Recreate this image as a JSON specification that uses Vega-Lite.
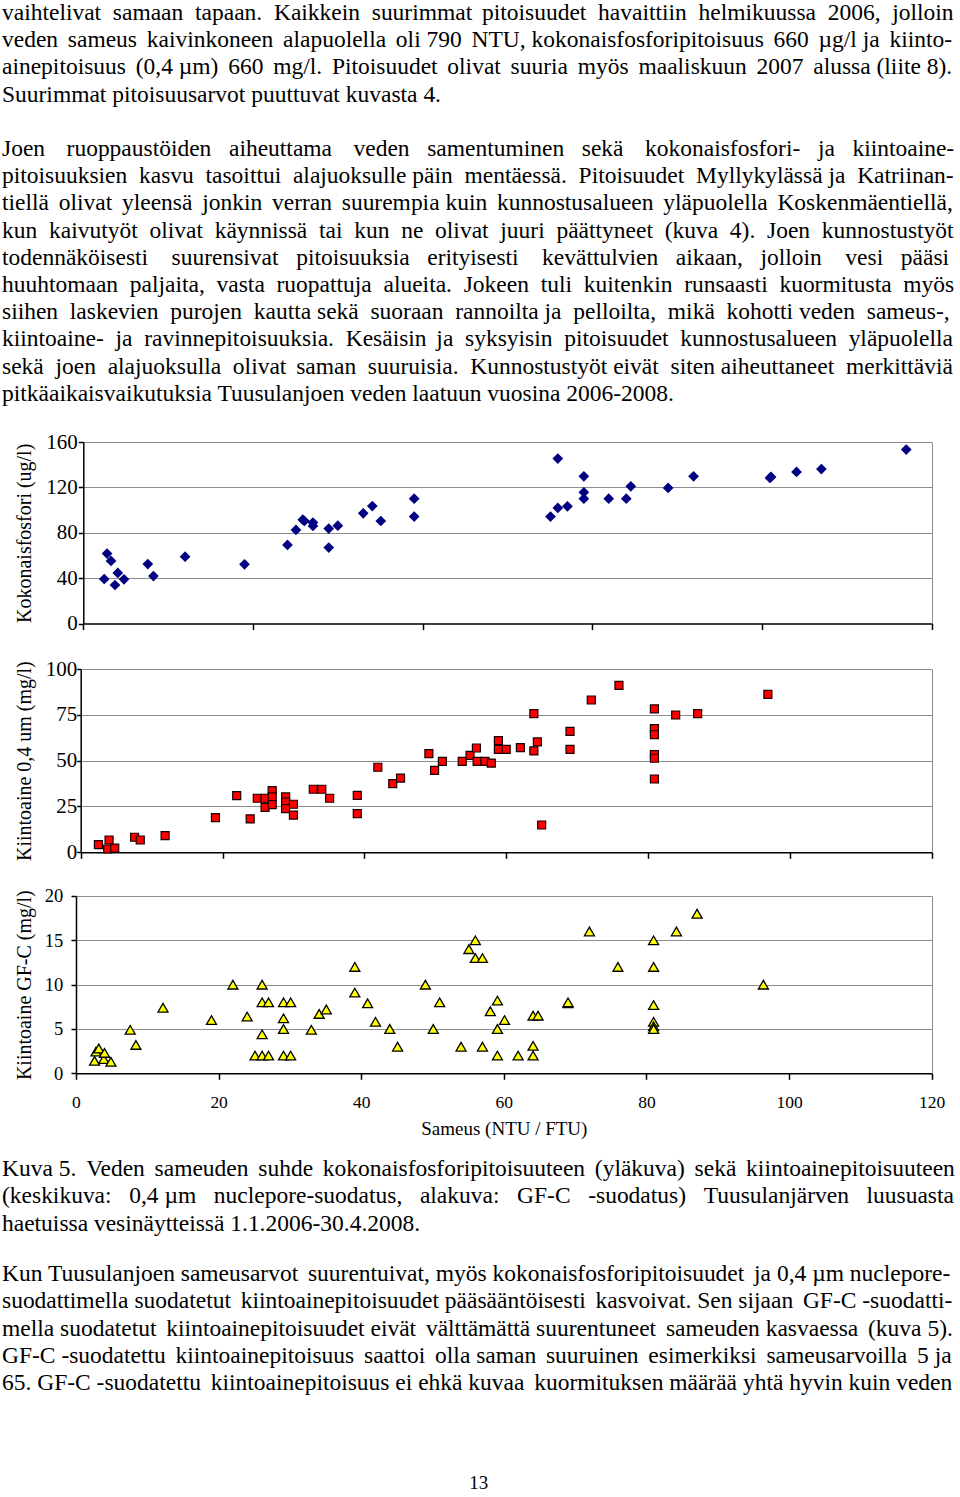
{
  "$schema": "https://vega.github.io/schema/vega-lite/v6.json",
  "background": "white",
  "padding": {"left": 2, "top": 0, "right": 0, "bottom": 0},
  "config": {
    "font": "Liberation Serif",
    "view": {"stroke": null},
    "axis": {
      "domainColor": "black", "domainWidth": 1.5,
      "tickColor": "black", "tickWidth": 1.5,
      "labelColor": "black", "titleColor": "black",
      "labelFont": "Liberation Serif", "titleFont": "Liberation Serif",
      "titleFontWeight": "normal", "titleFontSize": 20,
      "gridColor": "#8c8c8c", "gridWidth": 1,
      "labelFlush": false
    },
    "title": {"font": "Liberation Serif", "fontWeight": "normal", "color": "black",
      "subtitleFont": "Liberation Serif", "subtitleColor": "black", "subtitleFontWeight": "normal"}
  },
  "datasets": {
    "tp": [
      {"sameus": 3.7, "value": 39.3}, {"sameus": 4.2, "value": 61.7}, {"sameus": 4.9, "value": 55.2},
      {"sameus": 5.6, "value": 34.0}, {"sameus": 6.1, "value": 44.6}, {"sameus": 7.2, "value": 39.0},
      {"sameus": 11.4, "value": 52.5}, {"sameus": 12.4, "value": 41.9}, {"sameus": 18.0, "value": 59.0},
      {"sameus": 28.5, "value": 52.2}, {"sameus": 36.1, "value": 69.3}, {"sameus": 37.6, "value": 82.5},
      {"sameus": 38.8, "value": 91.6}, {"sameus": 39.1, "value": 90.4}, {"sameus": 40.6, "value": 89.0},
      {"sameus": 40.6, "value": 86.0}, {"sameus": 43.4, "value": 67.0}, {"sameus": 43.4, "value": 83.7},
      {"sameus": 45.0, "value": 86.3}, {"sameus": 49.5, "value": 97.2}, {"sameus": 51.1, "value": 103.6},
      {"sameus": 52.6, "value": 90.4}, {"sameus": 58.5, "value": 110.1}, {"sameus": 58.5, "value": 94.3},
      {"sameus": 83.9, "value": 145.4}, {"sameus": 82.6, "value": 94.3}, {"sameus": 83.9, "value": 101.9},
      {"sameus": 85.6, "value": 103.3}, {"sameus": 88.5, "value": 129.8}, {"sameus": 88.5, "value": 115.7},
      {"sameus": 88.5, "value": 110.1}, {"sameus": 92.9, "value": 110.1}, {"sameus": 96.0, "value": 110.1},
      {"sameus": 96.8, "value": 121.0}, {"sameus": 103.4, "value": 119.5}, {"sameus": 107.9, "value": 129.8},
      {"sameus": 121.6, "value": 129.2}, {"sameus": 121.4, "value": 128.3}, {"sameus": 126.1, "value": 133.6},
      {"sameus": 130.5, "value": 136.2}, {"sameus": 145.5, "value": 153.3}
    ],
    "ss": [
      {"sameus": 2.5, "value": 4.2}, {"sameus": 3.8, "value": 1.8}, {"sameus": 4.0, "value": 6.7},
      {"sameus": 4.8, "value": 2.3}, {"sameus": 7.6, "value": 8.2}, {"sameus": 8.4, "value": 6.7},
      {"sameus": 11.9, "value": 9.1}, {"sameus": 19.0, "value": 18.9}, {"sameus": 22.0, "value": 30.9},
      {"sameus": 23.9, "value": 18.2}, {"sameus": 24.9, "value": 29.5}, {"sameus": 26.0, "value": 29.5},
      {"sameus": 26.0, "value": 24.5}, {"sameus": 27.0, "value": 33.7}, {"sameus": 27.0, "value": 30.2},
      {"sameus": 27.0, "value": 26.0}, {"sameus": 28.9, "value": 30.2}, {"sameus": 28.9, "value": 27.4},
      {"sameus": 28.9, "value": 23.8}, {"sameus": 30.0, "value": 26.2}, {"sameus": 30.0, "value": 20.3},
      {"sameus": 32.8, "value": 34.4}, {"sameus": 34.0, "value": 34.4}, {"sameus": 35.1, "value": 29.5},
      {"sameus": 39.0, "value": 31.1}, {"sameus": 39.0, "value": 21.1}, {"sameus": 41.9, "value": 46.4},
      {"sameus": 44.0, "value": 37.5}, {"sameus": 45.1, "value": 40.5}, {"sameus": 49.1, "value": 53.8},
      {"sameus": 49.9, "value": 44.7}, {"sameus": 51.0, "value": 49.6}, {"sameus": 53.8, "value": 49.6},
      {"sameus": 54.9, "value": 52.9}, {"sameus": 55.8, "value": 56.9}, {"sameus": 55.9, "value": 49.6},
      {"sameus": 57.0, "value": 49.6}, {"sameus": 57.9, "value": 48.7}, {"sameus": 58.9, "value": 60.9},
      {"sameus": 58.9, "value": 56.2}, {"sameus": 60.0, "value": 56.2}, {"sameus": 62.0, "value": 57.1},
      {"sameus": 63.9, "value": 75.7}, {"sameus": 63.9, "value": 55.3}, {"sameus": 64.4, "value": 60.2},
      {"sameus": 65.0, "value": 14.9}, {"sameus": 69.0, "value": 66.0}, {"sameus": 69.0, "value": 56.2},
      {"sameus": 72.0, "value": 83.1}, {"sameus": 75.9, "value": 91.1}, {"sameus": 80.9, "value": 78.2},
      {"sameus": 80.9, "value": 67.5}, {"sameus": 80.9, "value": 64.2}, {"sameus": 80.9, "value": 53.3},
      {"sameus": 80.9, "value": 51.3}, {"sameus": 80.9, "value": 40.0}, {"sameus": 83.9, "value": 74.9},
      {"sameus": 87.0, "value": 75.7}, {"sameus": 96.9, "value": 86.2}
    ],
    "gfc": [
      {"sameus": 2.6, "value": 1.4}, {"sameus": 2.8, "value": 2.45}, {"sameus": 3.2, "value": 2.8},
      {"sameus": 3.9, "value": 1.6}, {"sameus": 4.0, "value": 2.3}, {"sameus": 4.9, "value": 1.3},
      {"sameus": 7.6, "value": 4.9}, {"sameus": 8.4, "value": 3.2}, {"sameus": 12.2, "value": 7.4},
      {"sameus": 19.0, "value": 6.0}, {"sameus": 22.0, "value": 10.0}, {"sameus": 24.0, "value": 6.4},
      {"sameus": 25.1, "value": 2.0}, {"sameus": 26.1, "value": 10.0}, {"sameus": 26.1, "value": 8.0},
      {"sameus": 26.1, "value": 4.4}, {"sameus": 26.1, "value": 2.0}, {"sameus": 27.0, "value": 8.0},
      {"sameus": 27.0, "value": 2.0}, {"sameus": 29.1, "value": 8.0}, {"sameus": 29.1, "value": 6.2},
      {"sameus": 29.1, "value": 5.0}, {"sameus": 29.1, "value": 2.0}, {"sameus": 30.1, "value": 8.0},
      {"sameus": 30.1, "value": 2.0}, {"sameus": 33.0, "value": 4.9}, {"sameus": 34.1, "value": 6.7},
      {"sameus": 35.1, "value": 7.2}, {"sameus": 39.1, "value": 12.0}, {"sameus": 39.1, "value": 9.1},
      {"sameus": 40.9, "value": 7.9}, {"sameus": 42.0, "value": 5.8}, {"sameus": 44.0, "value": 5.0},
      {"sameus": 45.1, "value": 3.0}, {"sameus": 49.0, "value": 10.0}, {"sameus": 50.1, "value": 5.0},
      {"sameus": 51.0, "value": 8.0}, {"sameus": 54.0, "value": 3.0}, {"sameus": 55.1, "value": 14.0},
      {"sameus": 56.0, "value": 15.0}, {"sameus": 56.0, "value": 13.0}, {"sameus": 57.0, "value": 3.0},
      {"sameus": 57.0, "value": 13.0}, {"sameus": 59.1, "value": 8.2}, {"sameus": 58.1, "value": 7.0},
      {"sameus": 59.1, "value": 5.0}, {"sameus": 59.1, "value": 2.0}, {"sameus": 60.1, "value": 6.0},
      {"sameus": 62.0, "value": 2.0}, {"sameus": 64.1, "value": 6.5}, {"sameus": 64.8, "value": 6.5},
      {"sameus": 64.1, "value": 3.1}, {"sameus": 64.1, "value": 2.0}, {"sameus": 69.0, "value": 7.9},
      {"sameus": 69.0, "value": 8.0}, {"sameus": 72.0, "value": 16.0}, {"sameus": 76.0, "value": 12.0},
      {"sameus": 81.0, "value": 15.0}, {"sameus": 81.0, "value": 12.0}, {"sameus": 81.0, "value": 7.7},
      {"sameus": 81.0, "value": 5.8}, {"sameus": 81.0, "value": 5.3}, {"sameus": 81.0, "value": 5.0},
      {"sameus": 84.2, "value": 16.0}, {"sameus": 87.1, "value": 18.0}, {"sameus": 96.4, "value": 10.0}
    ]
  },
  "title": {"text": "13", "orient": "bottom", "anchor": "middle", "offset": 80, "fontSize": 19},
  "vconcat": [
    {
      "title": {
        "text": [
          "Kuva 5. \u2006Veden \u2006sameuden \u2006suhde \u2006kokonaisfosforipitoisuuteen \u2006(yläkuva) \u2006sekä \u2006kiintoainepitoisuuteen",
          "(keskikuva: \u20020,4 µm \u2002nuclepore-suodatus, \u2002alakuva: \u2002GF-C \u2002-suodatus) \u2002Tuusulanjärven \u2002luusuasta",
          "haetuissa vesinäytteissä 1.1.2006-30.4.2008."
        ],
        "subtitle": [
          "Kun Tuusulanjoen sameusarvot \u2006suurentuivat, myös kokonaisfosforipitoisuudet \u2006ja 0,4 µm nuclepore-",
          "suodattimella suodatetut \u2006kiintoainepitoisuudet pääsääntöisesti \u2006kasvoivat. Sen sijaan \u2006GF-C -suodatti-",
          "mella suodatetut \u2006kiintoainepitoisuudet eivät \u2006välttämättä suurentuneet \u2006sameuden kasvaessa \u2006(kuva 5).",
          "GF-C -suodatettu \u2006kiintoainepitoisuus \u2006saattoi \u2006olla saman \u2006suuruinen \u2006esimerkiksi \u2006sameusarvoilla \u20065 ja",
          "65. GF-C -suodatettu \u2006kiintoainepitoisuus ei ehkä kuvaa \u2006kuormituksen määrää yhtä hyvin kuin veden"
        ],
        "orient": "bottom", "anchor": "start", "offset": 18.5,
        "fontSize": 23.5, "lineHeight": 27.2,
        "subtitleFontSize": 23.5, "subtitleLineHeight": 27.2, "subtitlePadding": 27
      },
      "vconcat": [
        {
          "title": {
            "text": [
              "vaihtelivat \u2005samaan \u2005tapaan. \u2005Kaikkein \u2005suurimmat \u2006pitoisuudet \u2005havaittiin \u2005helmikuussa \u20052006, \u2005jolloin",
              "veden \u2006sameus \u2006kaivinkoneen \u2006alapuolella \u2006oli 790 \u2006NTU, kokonaisfosforipitoisuus \u2006660 \u2006µg/l ja \u2006kiinto-",
              "ainepitoisuus \u2006(0,4 µm) \u2006660 \u2006mg/l. \u2006Pitoisuudet \u2006olivat \u2006suuria \u2006myös \u2006maaliskuun \u20062007 \u2006alussa (liite 8).",
              "Suurimmat pitoisuusarvot puuttuvat kuvasta 4."
            ],
            "subtitle": [
              "Joen \u2002\u2006ruoppaustöiden \u2002aiheuttama \u2002\u2006veden \u2002samentuminen \u2002sekä \u2002\u2006kokonaisfosfori- \u2002ja \u2002kiintoaine-",
              "pitoisuuksien \u2005kasvu \u2005tasoittui \u2005alajuoksulle päin \u2005mentäessä. \u2005Pitoisuudet \u2005Myllykylässä ja \u2005Katriinan-",
              "tiellä \u2006olivat \u2006yleensä \u2006jonkin \u2006verran \u2006suurempia kuin \u2006kunnostusalueen \u2006yläpuolella \u2006Koskenmäentiellä,",
              "kun \u2005kaivutyöt \u2005olivat \u2005käynnissä \u2005tai \u2005kun \u2005ne \u2005olivat \u2005juuri \u2005päättyneet \u2005(kuva \u20054). \u2005Joen \u2005kunnostustyöt",
              "todennäköisesti \u2002\u2005suurensivat \u2002pitoisuuksia \u2002erityisesti \u2002\u2005kevättulvien \u2002aikaan, \u2002jolloin \u2002\u2005vesi \u2002pääsi",
              "huuhtomaan \u2005paljaita, \u2005vasta \u2005ruopattuja \u2005alueita. \u2005Jokeen \u2005tuli \u2005kuitenkin \u2005runsaasti \u2005kuormitusta \u2005myös",
              "siihen \u2005laskevien \u2005purojen \u2005kautta sekä \u2005suoraan \u2005rannoilta ja \u2005pelloilta, \u2005mikä \u2005kohotti veden \u2005sameus-,",
              "kiintoaine- \u2005ja \u2005ravinnepitoisuuksia. \u2005Kesäisin \u2006ja \u2005syksyisin \u2005pitoisuudet \u2005kunnostusalueen \u2005yläpuolella",
              "sekä \u2005joen \u2005alajuoksulla \u2005olivat \u2006saman \u2005suuruisia. \u2005Kunnostustyöt eivät \u2005siten aiheuttaneet \u2005merkittäviä",
              "pitkäaikaisvaikutuksia Tuusulanjoen veden laatuun vuosina 2006-2008."
            ],
            "orient": "top", "anchor": "start", "dx": -13, "offset": 25.7,
            "fontSize": 23.5, "lineHeight": 27.2,
            "subtitleFontSize": 23.5, "subtitleLineHeight": 27.2, "subtitlePadding": 31
          },
          "spacing": 24,
          "vconcat": [
            {
              "width": 855.7, "height": 181.6,
              "data": {"name": "tp"},
              "mark": {"type": "point", "shape": "diamond", "filled": true, "size": 115, "color": "#000080", "opacity": 1},
              "encoding": {
                "x": {"field": "sameus", "type": "quantitative",
                  "scale": {"domain": [0, 150], "nice": false, "range": [7.3, 855.7]},
                  "axis": {"values": [0, 30, 60, 90, 120, 150], "labels": false, "title": null, "tickSize": 6,
                    "grid": true, "gridOpacity": {"condition": {"test": "datum.value === 150", "value": 1}, "value": 0}}},
                "y": {"field": "value", "type": "quantitative",
                  "scale": {"domain": [0, 160], "nice": false},
                  "axis": {"values": [0, 40, 80, 120, 160], "title": "Kokonaisfosfori (ug/l)", "offset": -7.3,
                    "labelFontSize": 21, "tickSize": 5, "labelPadding": 1, "titlePadding": 2,
                    "minExtent": 46.3, "maxExtent": 46.3,
                    "grid": true, "gridOpacity": {"condition": {"test": "datum.value === 0", "value": 0}, "value": 1}}}
              }
            },
            {
              "width": 855.7, "height": 183.3,
              "data": {"name": "ss"},
              "mark": {"type": "point", "shape": "square", "filled": true, "size": 64, "color": "#ff0000", "stroke": "#1a0000", "strokeWidth": 1.2, "opacity": 1},
              "encoding": {
                "x": {"field": "sameus", "type": "quantitative",
                  "scale": {"domain": [0, 120], "nice": false, "range": [4.7, 855.7]},
                  "axis": {"values": [0, 20, 40, 60, 80, 100, 120], "labels": false, "title": null, "tickSize": 6,
                    "grid": true, "gridOpacity": {"condition": {"test": "datum.value === 120", "value": 1}, "value": 0}}},
                "y": {"field": "value", "type": "quantitative",
                  "scale": {"domain": [0, 100], "nice": false},
                  "axis": {"values": [0, 25, 50, 75, 100], "title": "Kiintoaine 0,4 um (mg/l)", "offset": -4.7,
                    "labelFontSize": 21, "tickSize": 4, "labelPadding": 0, "titlePadding": 2,
                    "minExtent": 43.7, "maxExtent": 43.7,
                    "grid": true, "gridOpacity": {"condition": {"test": "datum.value === 0", "value": 0}, "value": 1}}}
              }
            },
            {
              "width": 855.7, "height": 177.3,
              "data": {"name": "gfc"},
              "mark": {"type": "point", "shape": "triangle-up", "filled": true, "size": 100, "color": "#ffff00", "stroke": "black", "strokeWidth": 1.3, "opacity": 1},
              "encoding": {
                "x": {"field": "sameus", "type": "quantitative",
                  "scale": {"domain": [0, 120], "nice": false},
                  "axis": {"values": [0, 20, 40, 60, 80, 100, 120], "title": "Sameus (NTU / FTU)",
                    "titleFontSize": 19, "labelFontSize": 17.5, "tickSize": 6, "labelPadding": 14, "titlePadding": 9,
                    "grid": true, "gridOpacity": {"condition": {"test": "datum.value === 120", "value": 1}, "value": 0}}},
                "y": {"field": "value", "type": "quantitative",
                  "scale": {"domain": [0, 20], "nice": false},
                  "axis": {"values": [0, 5, 10, 15, 20], "title": "Kiintoaine GF-C (mg/l)",
                    "labelFontSize": 18.5, "tickSize": 5, "labelPadding": 8.3, "titlePadding": 2,
                    "minExtent": 39, "maxExtent": 39,
                    "grid": true, "gridOpacity": {"condition": {"test": "datum.value === 0", "value": 0}, "value": 1}}}
              }
            }
          ]
        }
      ]
    }
  ]
}
